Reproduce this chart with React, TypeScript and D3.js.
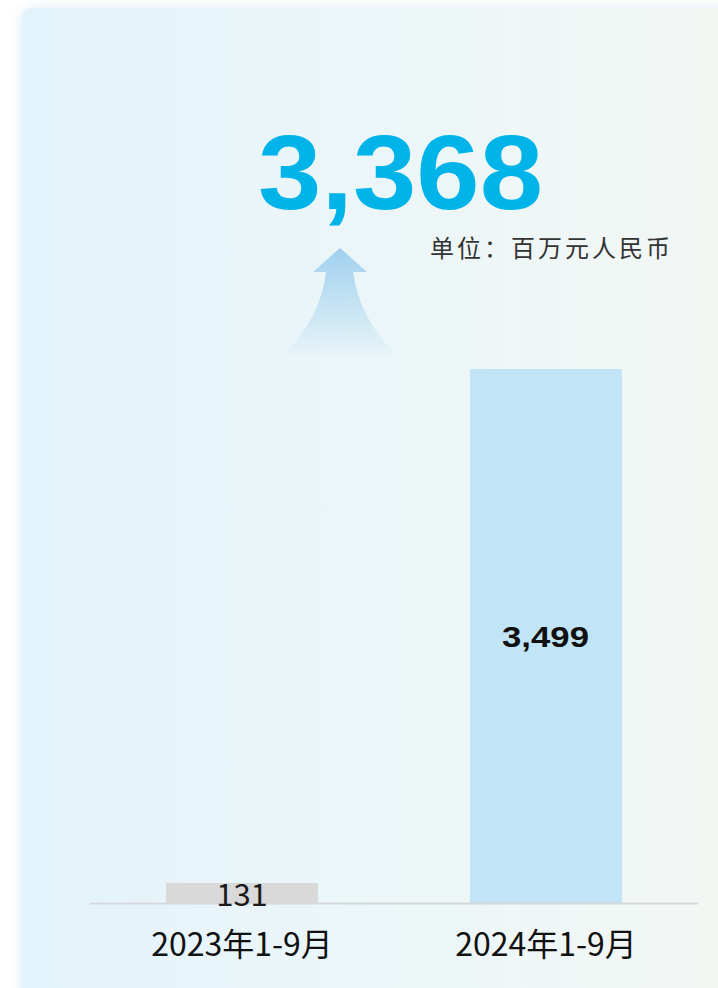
import React from "react";
import * as d3 from "d3";

// periods on the x axis
const periods = ["2023年1-9月", "2024年1-9月"];
// values in million RMB
const values = [131, 3499];
const barColors = ["#d9d9d9", "#c1e5f6"];
const growthLabel = "3,368";
const unitLabel = "单位：百万元人民币";

const W = 718;
const H = 988;
const baseY = 903;
const fontCJK = "'Noto Sans CJK SC', 'Noto Sans', sans-serif";

export default function App() {
  const x = d3
    .scaleBand<string>()
    .domain(periods)
    .range([90, 698])
    .paddingInner(0.5)
    .paddingOuter(0.25);

  const y = d3
    .scaleLinear()
    .domain([0, d3.max(values) as number])
    .range([baseY, 369]);

  const fmt = d3.format(",");

  // decorative arrow above the first bar
  const ax = 340;
  const arrow = d3.path();
  arrow.moveTo(ax, 248);
  arrow.lineTo(ax + 27, 272);
  arrow.lineTo(ax + 13, 272);
  arrow.quadraticCurveTo(ax + 20, 320, ax + 57, 355);
  arrow.lineTo(ax - 57, 355);
  arrow.quadraticCurveTo(ax - 20, 320, ax - 14, 272);
  arrow.lineTo(ax - 27, 272);
  arrow.closePath();

  return (
    <div style={{ position: "absolute", left: 0, top: 0 }}>
      <svg width={W} height={H} style={{ display: "block" }}>
        <defs>
          <linearGradient id="cardBg" x1="0" x2="1" y1="0" y2="0">
            <stop offset="0" stopColor="#e3f3fb" />
            <stop offset="0.5" stopColor="#ecf6f8" />
            <stop offset="1" stopColor="#f3f7f3" />
          </linearGradient>
          <linearGradient id="arrowFill" x1="0" x2="0" y1="0" y2="1">
            <stop offset="0" stopColor="#9fd0ee" />
            <stop offset="1" stopColor="#9fd0ee" stopOpacity="0.05" />
          </linearGradient>
          <filter id="shadow" x="-10%" y="-10%" width="120%" height="120%">
            <feDropShadow dx="0" dy="0" stdDeviation="7" floodColor="#b9d6ea" floodOpacity="0.45" />
          </filter>
        </defs>
        <rect width={W} height={H} fill="#ffffff" />
        <rect x={21} y={8} width={W + 20} height={H + 20} rx={12} fill="url(#cardBg)" filter="url(#shadow)" />

        <text
          x={258}
          y={209}
          fontFamily="'Liberation Sans', Arial, sans-serif"
          fontWeight="bold"
          fontSize={106}
          fill="#00b4ea"
          textLength={285}
          lengthAdjust="spacingAndGlyphs"
        >
          {growthLabel}
        </text>
        <text x={430} y={257} fontFamily={fontCJK} fontSize={24} fill="#333333" textLength={240}>
          {unitLabel}
        </text>

        <path d={arrow.toString()} fill="url(#arrowFill)" />

        {values.map((v, i) => (
          <rect
            key={periods[i]}
            x={x(periods[i])}
            y={y(v)}
            width={x.bandwidth()}
            height={baseY - y(v)}
            fill={barColors[i]}
          />
        ))}

        <line x1={90} x2={698} y1={baseY + 0.5} y2={baseY + 0.5} stroke="#d5d8da" strokeWidth={2} />

        <text
          x={(x(periods[0]) as number) + x.bandwidth() / 2}
          y={906}
          textAnchor="middle"
          fontFamily={fontCJK}
          fontSize={31}
          fill="#1a1a1a"
        >
          {fmt(values[0])}
        </text>
        <text
          x={(x(periods[1]) as number) + x.bandwidth() / 2 - 44}
          y={(y(values[1]) + baseY) / 2 + 11}
          fontFamily="'Liberation Sans', Arial, sans-serif"
          fontWeight="bold"
          fontSize={29}
          fill="#111111"
          textLength={87}
          lengthAdjust="spacingAndGlyphs"
        >
          {fmt(values[1])}
        </text>

        {periods.map((p) => (
          <text
            key={p}
            x={(x(p) as number) + x.bandwidth() / 2}
            y={956}
            textAnchor="middle"
            fontFamily={fontCJK}
            fontSize={32}
            fill="#111111"
          >
            {p}
          </text>
        ))}
      </svg>
    </div>
  );
}
